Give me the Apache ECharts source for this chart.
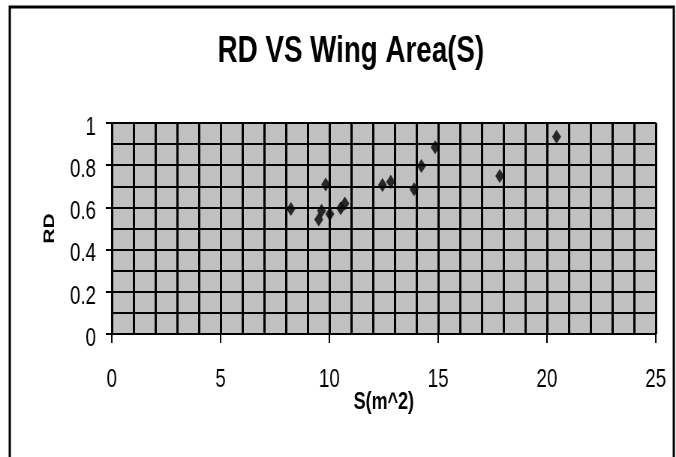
<!DOCTYPE html>
<html>
<head>
<meta charset="utf-8">
<script src="https://cdn.jsdelivr.net/npm/echarts@6/dist/echarts.min.js"></script>
<style>
  html, body { margin: 0; padding: 0; background: #fff; overflow: hidden; }
  /* the original picture is squeezed sideways, so draw wide and squeeze it */
  #main { width: 901px; height: 457px; transform: scaleX(0.7503); transform-origin: 0 0; }
</style>
</head>
<body>
<div id="main"></div>
<script>
// wing area S (m^2) and RD
var areaS = [8.23, 9.83, 9.51, 9.64, 10.02, 10.52, 10.71, 12.44, 12.82, 13.89, 14.23, 14.86, 17.83, 20.44];
var rdValues = [0.592, 0.709, 0.543, 0.584, 0.569, 0.596, 0.619, 0.706, 0.722, 0.686, 0.796, 0.885, 0.749, 0.935];

var points = [];
for (let i = 0; i < areaS.length; i++) {
    points.push([areaS[i], rdValues[i]]);
}

var myChart = echarts.init(document.getElementById('main'));
var font = 'Liberation Sans, Arial, sans-serif';

var option = {
    backgroundColor: '#fff',
    animation: false,
    title: {
        text: 'RD VS Wing Area(S)',
        left: 285,
        top: 28,
        textStyle: { fontFamily: font, fontSize: 37, fontWeight: 'bold', color: '#000' }
    },
    graphic: [{
        type: 'rect',
        shape: { x: 13, y: 7, width: 885, height: 500 },
        style: { fill: 'none', stroke: '#000', lineWidth: 3 },
        silent: true
    }],
    grid: {
        left: 149,
        right: 27,
        top: 123,
        bottom: 123,
        show: true,
        backgroundColor: '#C0C0C0',
        borderColor: '#808080',
        borderWidth: 2
    },
    xAxis: {
        type: 'value',
        min: 0,
        max: 25,
        interval: 5,
        name: 'S(m^2)',
        nameLocation: 'middle',
        nameGap: 56,
        nameMoveOverlap: false,
        nameTextStyle: { fontFamily: font, fontSize: 24, fontWeight: 'bold', color: '#000' },
        axisLine: { show: true, lineStyle: { color: '#000', width: 2 } },
        axisTick: { show: true, length: 9, lineStyle: { color: '#000', width: 2 } },
        axisLabel: { margin: 34, fontFamily: font, fontSize: 25, color: '#000' },
        splitLine: { show: true, lineStyle: { color: '#000', width: 3 } },
        minorTick: { show: false, splitNumber: 5 },
        minorSplitLine: { show: true, lineStyle: { color: '#000', width: 3 } }
    },
    yAxis: {
        type: 'value',
        min: 0,
        max: 1,
        interval: 0.2,
        name: 'RD',
        nameLocation: 'middle',
        nameGap: 72,
        nameMoveOverlap: false,
        nameTextStyle: { fontFamily: font, fontSize: 21, fontWeight: 'bold', color: '#000' },
        axisLine: { show: true, lineStyle: { color: '#000', width: 2 } },
        axisTick: { show: true, length: 8, lineStyle: { color: '#000', width: 2 } },
        axisLabel: { margin: 21, verticalAlign: 'top', lineHeight: 10, fontFamily: font, fontSize: 25, color: '#000' },
        splitLine: { show: true, lineStyle: { color: '#000', width: 2 } },
        minorTick: { show: false, splitNumber: 2 },
        minorSplitLine: { show: true, lineStyle: { color: '#000', width: 2 } }
    },
    series: [{
        name: 'RD',
        type: 'scatter',
        symbol: 'diamond',
        symbolSize: [12, 14],
        itemStyle: { color: '#000' },
        data: points
    }]
};

myChart.setOption(option);
</script>
</body>
</html>
